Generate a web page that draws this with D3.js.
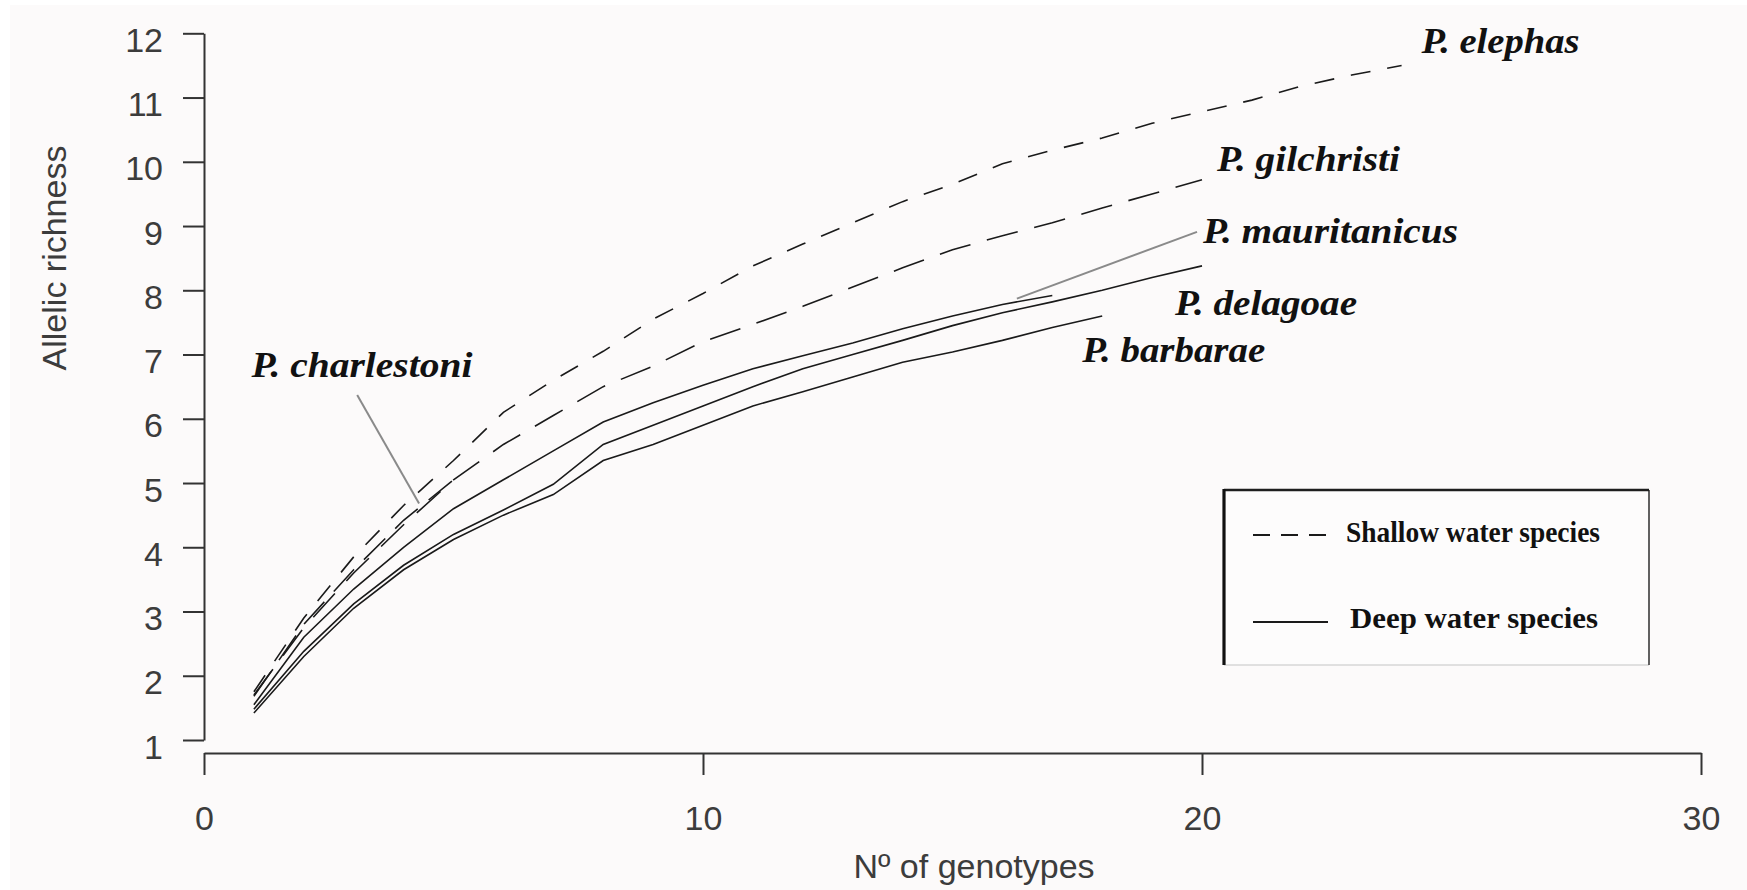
<!DOCTYPE html>
<html>
<head>
<meta charset="utf-8">
<script src="https://cdn.jsdelivr.net/npm/d3@7/dist/d3.min.js"></script>
<style>
  html, body { margin: 0; padding: 0; background: #ffffff; }
  svg { display: block; }
  .tick text { font-family: "Liberation Sans", Arial, sans-serif; font-size: 34px; fill: #3c3c3c; }
  .tick line, .domain { stroke: #333; stroke-width: 2; }
  .title { font-family: "Liberation Sans", Arial, sans-serif; font-size: 34px; fill: #3c3c3c; }
  .sp { font-family: "Liberation Serif", "Times New Roman", serif; font-style: italic; font-weight: bold; font-size: 36px; fill: #111; }
  .lg { font-family: "Liberation Serif", "Times New Roman", serif; font-weight: bold; font-size: 29px; fill: #111; }
</style>
</head>
<body>
<svg id="chart" width="1747" height="890"></svg>
<script>
// Rarefaction curves: allelic richness vs number of genotypes sampled (x = 1..N)
const elephas      = [1.75, 2.9, 3.85, 4.65, 5.35, 6.1, 6.6, 7.05, 7.55, 7.95, 8.38, 8.72, 9.05, 9.38, 9.65, 9.97, 10.18, 10.37, 10.6, 10.78, 10.96, 11.18, 11.35, 11.5];
const gilchristi   = [1.7, 2.75, 3.6, 4.35, 5.05, 5.6, 6.05, 6.5, 6.82, 7.2, 7.47, 7.75, 8.05, 8.35, 8.63, 8.85, 9.05, 9.28, 9.5, 9.72];
const charlestoni  = [1.68, 2.8, 3.65, 4.42, 5.05];
const mauritanicus = [1.55, 2.6, 3.35, 4.0, 4.6, 5.05, 5.5, 5.95, 6.25, 6.52, 6.78, 6.98, 7.18, 7.4, 7.6, 7.78, 7.92];
const delagoae     = [1.48, 2.38, 3.12, 3.72, 4.2, 4.58, 4.98, 5.6, 5.9, 6.2, 6.5, 6.78, 7.0, 7.22, 7.45, 7.65, 7.82, 8.0, 8.2, 8.38];
const barbarae     = [1.42, 2.3, 3.05, 3.65, 4.12, 4.5, 4.82, 5.35, 5.6, 5.9, 6.2, 6.42, 6.65, 6.88, 7.04, 7.22, 7.42, 7.6];

const xTicks = [0, 10, 20, 30];
const yTicks = [1, 2, 3, 4, 5, 6, 7, 8, 9, 10, 11, 12];
const xTitle = "N\u00BA of genotypes";
const yTitle = "Allelic richness";
const legendLabels = ["Shallow water species", "Deep water species"];

// habitat: shallow species drawn dashed, deep species solid
const series = [
  { name: "P. elephas",      values: elephas,      shallow: true,  dash: "20,17" },
  { name: "P. gilchristi",   values: gilchristi,   shallow: true,  dash: "32,17" },
  { name: "P. charlestoni",  values: charlestoni,  shallow: true,  dash: "30,14" },
  { name: "P. mauritanicus", values: mauritanicus, shallow: false },
  { name: "P. delagoae",     values: delagoae,     shallow: false },
  { name: "P. barbarae",     values: barbarae,     shallow: false }
];

// species labels: [left x in genotypes, baseline in richness units, text width px]
const labelPos = {
  "P. elephas":      [24.4, 11.7, 158],
  "P. gilchristi":   [20.3, 9.86, 183],
  "P. mauritanicus": [20.02, 8.74, 255],
  "P. delagoae":     [19.46, 7.62, 182],
  "P. barbarae":     [17.6, 6.88, 183],
  "P. charlestoni":  [0.95, 6.65, 221]
};
// leader lines from a label to its curve: [x0, y0, x1, y1] in data units
const leaders = [
  [3.07, 6.37, 4.31, 4.68],
  [19.9, 8.91, 16.29, 7.87]
];

const svg = d3.select("#chart");
svg.append("rect").attr("x", 10).attr("y", 5).attr("width", 1737).attr("height", 885).attr("fill", "#fcfafa");

const x = d3.scaleLinear().domain([0, 30]).range([204, 1701]);
const y = d3.scaleLinear().domain([1, 12]).range([740, 33.3]);

// axes
svg.append("g").attr("transform", "translate(204,0)")
  .call(d3.axisLeft(y).tickValues(yTicks).tickFormat(d3.format("d")).tickSize(21).tickSizeOuter(0).tickPadding(20))
  .call(g => g.selectAll(".tick text").attr("dy", "0.53em"));

svg.append("g").attr("transform", "translate(0,753)")
  .call(d3.axisBottom(x).tickValues(xTicks).tickFormat(d3.format("d")).tickSize(22).tickSizeOuter(0).tickPadding(31));

svg.append("text").attr("class", "title")
  .attr("x", 974).attr("y", 878).attr("text-anchor", "middle").text(xTitle);
svg.append("text").attr("class", "title")
  .attr("transform", "translate(66,258) rotate(-90)").attr("text-anchor", "middle").text(yTitle);

// curves
const line = d3.line().x((d, i) => x(i + 1)).y(d => y(d));
svg.append("g").selectAll("path").data(series).join("path")
  .attr("d", d => line(d.values))
  .attr("fill", "none")
  .attr("stroke", "#1a1a1a")
  .attr("stroke-width", 1.6)
  .attr("stroke-dasharray", d => d.shallow ? d.dash : null);

// leader lines
svg.append("g").selectAll("line").data(leaders).join("line")
  .attr("x1", d => x(d[0])).attr("y1", d => y(d[1]))
  .attr("x2", d => x(d[2])).attr("y2", d => y(d[3]))
  .attr("stroke", "#8a8a8a").attr("stroke-width", 2);

// species labels
svg.append("g").selectAll("text").data(series).join("text")
  .attr("class", "sp")
  .attr("x", d => x(labelPos[d.name][0]))
  .attr("y", d => y(labelPos[d.name][1]))
  .attr("textLength", d => labelPos[d.name][2])
  .attr("lengthAdjust", "spacingAndGlyphs")
  .text(d => d.name);

// legend
const lg = svg.append("g");
const L = 1224, T = 490, R = 1649, B = 665;
lg.append("rect").attr("x", L).attr("y", T).attr("width", R - L).attr("height", B - T).attr("fill", "#fdfcfc");
lg.append("line").attr("x1", L).attr("y1", B).attr("x2", R).attr("y2", B).attr("stroke", "#c4c4c4").attr("stroke-width", 1.2);
lg.append("line").attr("x1", R).attr("y1", T).attr("x2", R).attr("y2", B).attr("stroke", "#3a3a3a").attr("stroke-width", 1.6);
lg.append("line").attr("x1", L).attr("y1", T).attr("x2", R).attr("y2", T).attr("stroke", "#1e1e1e").attr("stroke-width", 2.6);
lg.append("line").attr("x1", L).attr("y1", T - 1).attr("x2", L).attr("y2", B).attr("stroke", "#111").attr("stroke-width", 3.2);

const items = [
  { label: legendLabels[0], dash: "17,11", ly: 535, tx: 1346, ty: 542, w: 254 },
  { label: legendLabels[1], dash: null,    ly: 622, tx: 1350, ty: 628, w: 248 }
];
items.forEach(it => {
  lg.append("line").attr("x1", 1253).attr("x2", 1328).attr("y1", it.ly).attr("y2", it.ly)
    .attr("stroke", "#1a1a1a").attr("stroke-width", 2).attr("stroke-dasharray", it.dash);
  lg.append("text").attr("class", "lg").attr("x", it.tx).attr("y", it.ty)
    .attr("textLength", it.w).attr("lengthAdjust", "spacingAndGlyphs").text(it.label);
});
</script>
</body>
</html>
